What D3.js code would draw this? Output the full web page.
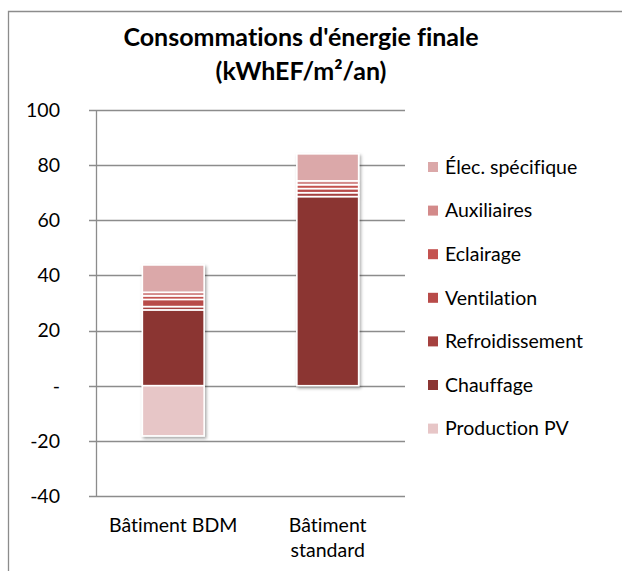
<!DOCTYPE html>
<html>
<head>
<meta charset="utf-8">
<script src="https://cdn.jsdelivr.net/npm/d3@7/dist/d3.min.js"></script>
<style>
  html, body { margin: 0; background: #fff; overflow: hidden; }
  svg { display: block; font-family: Lato, "Open Sans", sans-serif; font-variant-ligatures: none; }
</style>
</head>
<body>
<div id="chart"></div>
<script>
const categories = ['Bâtiment BDM', 'Bâtiment standard'];
const seriesNames = ['Chauffage', 'Refroidissement', 'Ventilation', 'Eclairage', 'Auxiliaires', 'Élec. spécifique', 'Production PV'];
const chauffage = [27.5, 68.6];
const refroidissement = [1.2, 1.4];
const ventilation = [2.6, 1.5];
const eclairage = [1.3, 1.4];
const auxiliaires = [1.3, 1.4];
const elecSpecifique = [9.9, 9.8];
const productionPV = [-18.2, 0];
const yTicks = [-40, -20, 0, 20, 40, 60, 80, 100];
const legendOrder = ['Élec. spécifique', 'Auxiliaires', 'Eclairage', 'Ventilation', 'Refroidissement', 'Chauffage', 'Production PV'];

const colors = {
  'Chauffage': '#8b3533',
  'Refroidissement': '#a5413f',
  'Ventilation': '#b84b49',
  'Eclairage': '#c4524f',
  'Auxiliaires': '#d38a8a',
  'Élec. spécifique': '#dba8a9',
  'Production PV': '#e7c6c7'
};

const values = [chauffage, refroidissement, ventilation, eclairage, auxiliaires, elecSpecifique, productionPV];
const rows = categories.map((c, i) => {
  const r = { cat: c };
  seriesNames.forEach((s, k) => { r[s] = values[k][i]; });
  return r;
});

const width = 622, height = 571;
const plot = { left: 96, right: 405, top: 110, bottom: 496 };
const fontSize = 19.5;

const svg = d3.select('#chart').append('svg')
  .attr('width', width)
  .attr('height', height);

const defs = svg.append('defs');
const shadow = defs.append('filter').attr('id', 'shadow')
  .attr('x', '-20%').attr('y', '-20%').attr('width', '150%').attr('height', '150%');
shadow.append('feDropShadow')
  .attr('dx', 1.5).attr('dy', 2).attr('stdDeviation', 1.6)
  .attr('flood-color', '#000').attr('flood-opacity', 0.35);

// chart frame (only left and top edges are inside the picture)
svg.append('path')
  .attr('d', `M8.5,${height}V11.5H${width}`)
  .attr('fill', 'none').attr('stroke', '#8c8c8c').attr('stroke-width', 1.3);

// title
svg.append('text')
  .attr('x', 301).attr('text-anchor', 'middle')
  .attr('font-weight', 'bold').attr('font-size', 25).attr('fill', '#000')
  .selectAll('tspan')
  .data(["Consommations d'énergie finale", '(kWhEF/m²/an)'])
  .join('tspan')
  .attr('x', 301)
  .attr('y', (d, i) => 46 + i * 34)
  .text(d => d);

const y = d3.scaleLinear().domain([-40, 100]).range([plot.bottom, plot.top]);
const x = d3.scaleBand().domain(categories).range([plot.left, plot.right])
  .paddingInner(0.6).paddingOuter(0.3);

// gridlines
svg.append('g')
  .selectAll('line')
  .data(yTicks)
  .join('line')
  .attr('x1', plot.left - 7).attr('x2', plot.right)
  .attr('y1', d => Math.round(y(d)) + 0.5).attr('y2', d => Math.round(y(d)) + 0.5)
  .attr('stroke', '#8c8c8c').attr('stroke-width', 1.3);

// y axis line
svg.append('line')
  .attr('x1', plot.left + 0.5).attr('x2', plot.left + 0.5)
  .attr('y1', y(100)).attr('y2', y(-40))
  .attr('stroke', '#8c8c8c').attr('stroke-width', 1.3);

// y labels
svg.append('g')
  .selectAll('text')
  .data(yTicks)
  .join('text')
  .attr('x', 60).attr('y', d => y(d))
  .attr('dy', '0.35em')
  .attr('text-anchor', 'end')
  .attr('font-size', fontSize).attr('fill', '#000')
  .text(d => d === 0 ? '-' : d);

// stacked bars
const stack = d3.stack().keys(seriesNames).offset(d3.stackOffsetDiverging);
const layers = stack(rows);

const barG = svg.append('g').attr('filter', 'url(#shadow)');
barG.selectAll('g')
  .data(layers)
  .join('g')
  .attr('fill', d => colors[d.key])
  .selectAll('rect')
  .data(d => d.filter(p => p[1] !== p[0]))
  .join('rect')
  .attr('x', d => x(d.data.cat))
  .attr('width', x.bandwidth())
  .attr('y', d => y(Math.max(d[0], d[1])))
  .attr('height', d => Math.abs(y(d[0]) - y(d[1])))
  .attr('stroke', '#fff').attr('stroke-width', 1.6);

// x labels
const xLabels = { 'Bâtiment BDM': ['Bâtiment BDM'], 'Bâtiment standard': ['Bâtiment', 'standard'] };
svg.append('g')
  .selectAll('text')
  .data(categories)
  .join('text')
  .attr('text-anchor', 'middle')
  .attr('font-size', fontSize).attr('fill', '#000')
  .each(function(c) {
    d3.select(this).selectAll('tspan')
      .data(xLabels[c])
      .join('tspan')
      .attr('x', x(c) + x.bandwidth() / 2)
      .attr('y', (d, i) => 532 + i * 25)
      .text(d => d);
  });

// legend
const legend = svg.append('g')
  .selectAll('g')
  .data(legendOrder)
  .join('g')
  .attr('transform', (d, i) => `translate(428, ${167 + i * 43.6})`);
legend.append('rect')
  .attr('x', 0).attr('y', -5).attr('width', 10).attr('height', 10)
  .attr('fill', d => colors[d]);
legend.append('text')
  .attr('x', 17).attr('y', 0).attr('dy', '0.35em')
  .attr('font-size', fontSize).attr('fill', '#000')
  .text(d => d);
</script>
</body>
</html>
